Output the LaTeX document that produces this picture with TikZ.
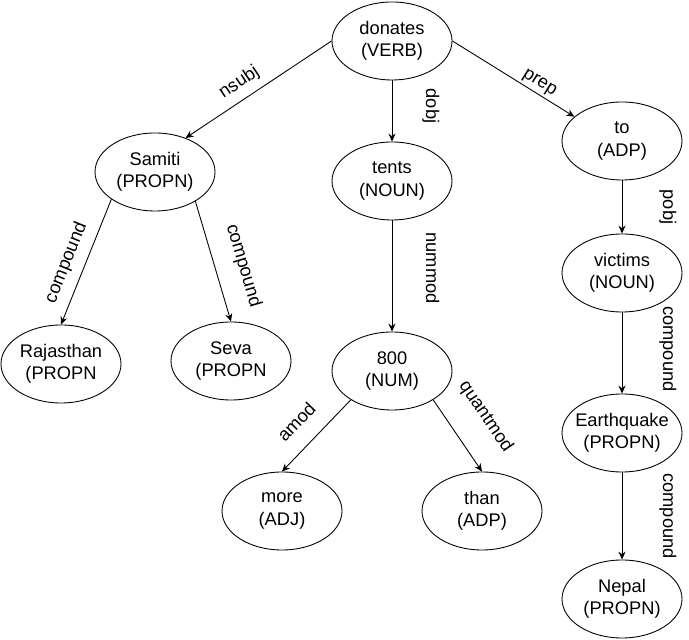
\documentclass[tikz,border=0pt]{standalone}
\usepackage{fontspec}
\setmainfont{Liberation Sans}
\usetikzlibrary{arrows.meta,shapes.geometric}

\begin{document}
\begin{tikzpicture}[font=\fontsize{10.4}{12.7}\selectfont,
   >={Stealth[length=4.5pt,width=4pt]},
   tok/.style={draw,ellipse,fill=white,line width=0.5pt,minimum width=2.4cm,
               minimum height=1.56cm,inner xsep=-4pt,inner ysep=0pt,align=center},
   dep/.style={->,line width=0.5pt},
   rel/.style={sloped,inner sep=0pt,text height=7.3pt,text depth=2.1pt}]
  \useasboundingbox (0,0) rectangle (13.78,12.8);
  \node[tok] (don) at (7.84,11.98)  {donates\\(VERB)};
  \node[tok] (sam) at (3.10,9.36)  {Samiti\\(PROPN)};
  \node[tok] (ten) at (7.84,9.18)  {tents\\(NOUN)};
  \node[tok] (to)  at (12.44,9.98) {to\\(ADP)};
  \node[tok] (raj) at (1.22,5.52)  {Rajasthan\\(PROPN};
  \node[tok] (sev) at (4.62,5.58)  {Seva\\(PROPN};
  \node[tok] (num) at (7.84,5.38)  {800\\(NUM)};
  \node[tok] (vic) at (12.44,7.34) {victims\\(NOUN)};
  \node[tok] (mor) at (5.64,2.58)  {more\\(ADJ)};
  \node[tok] (tha) at (9.64,2.58)  {than\\(ADP)};
  \node[tok] (ear) at (12.44,4.14) {Earthquake\\(PROPN)};
  \node[tok] (nep) at (12.44,0.82) {Nepal\\(PROPN)};
  \draw[dep] (don.west) -- node[rel,pos=0.57,above=4.3pt] {nsubj} (sam.48);
  \draw[dep] (don.south) -- node[rel,pos=0.42,above=17pt] {dobj} (ten.north);
  \draw[dep] (don.east) -- node[rel,pos=0.67,above=1.5pt] {prep} (to.153);
  \draw[dep] (sam.212) -- node[rel,pos=0.56,above=5.3pt] {compound} (raj.north);
  \draw[dep] (sam.324) -- node[rel,pos=0.6,above=10.7pt] {compound} (sev.north);
  \draw[dep] (ten.south) -- node[rel,pos=0.43,above=17pt] {nummod} (num.north);
  \draw[dep] (num.215) -- node[rel,pos=0.54,above=7.6pt] {amod} (mor.north);
  \draw[dep] (num.325) -- node[rel,pos=0.5,above=14.3pt] {quantmod} (tha.north);
  \draw[dep] (to.south) -- node[rel,pos=0.5,above=21pt] {pobj} (vic.north);
  \draw[dep] (vic.south) -- node[rel,pos=0.45,above=21pt] {compound} (ear.north);
  \draw[dep] (ear.south) -- node[rel,pos=0.5,above=21pt] {compound} (nep.north);
\end{tikzpicture}
\end{document}
